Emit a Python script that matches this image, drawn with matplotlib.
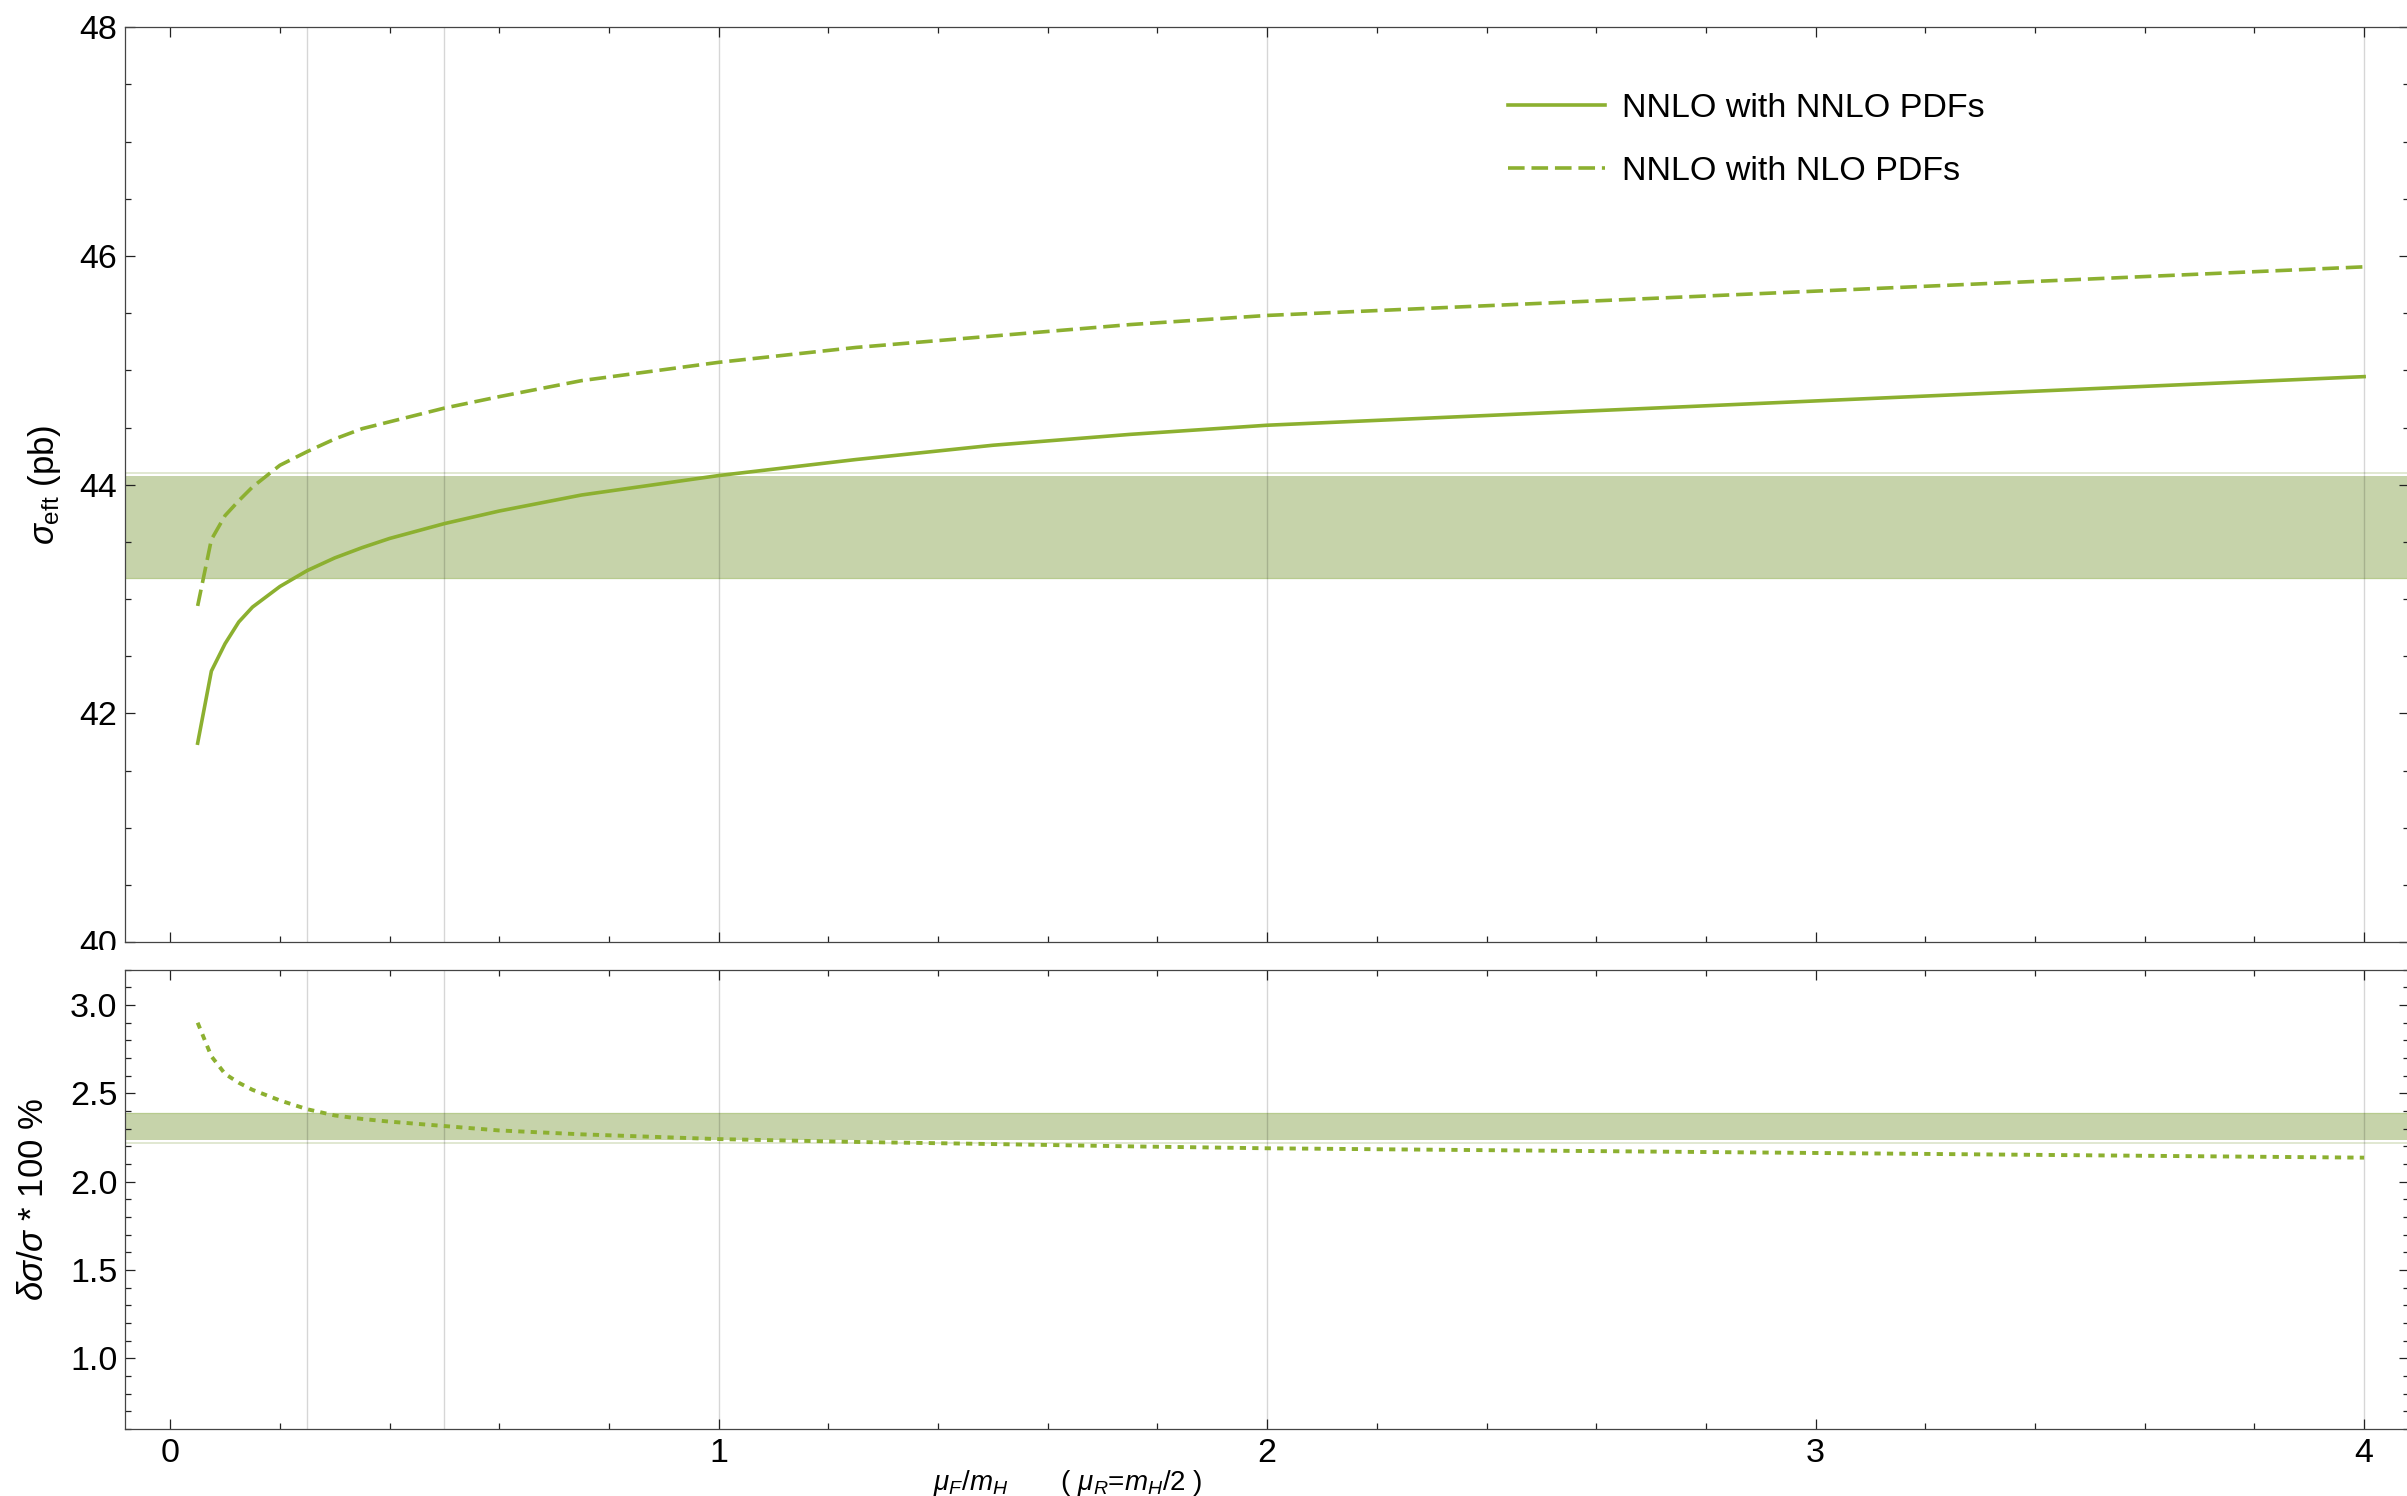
import matplotlib
matplotlib.use('Agg')
import matplotlib.pyplot as plt
from matplotlib.ticker import MultipleLocator, FormatStrFormatter
from matplotlib.patches import Rectangle

plt.rcParams['font.family'] = ['Liberation Sans', 'DejaVu Sans']
plt.rcParams['mathtext.fontset'] = 'custom'
plt.rcParams['mathtext.rm'] = 'Liberation Sans'
plt.rcParams['mathtext.it'] = 'Liberation Sans:italic'
plt.rcParams['mathtext.bf'] = 'Liberation Sans:bold'

# factorisation scale mu_F/m_H
mu_f = [0.05, 0.075, 0.1, 0.125, 0.15, 0.2, 0.25, 0.3, 0.35, 0.4, 0.5,
        0.6, 0.75, 1.0, 1.25, 1.5, 1.75, 2.0, 4.0]
# sigma_eft in pb
sigma_nnlo_pdf = [41.74, 42.37, 42.61, 42.80, 42.93, 43.11, 43.25, 43.36, 43.45,
                  43.53, 43.66, 43.77, 43.91, 44.08, 44.22, 44.345, 44.44, 44.52,
                  44.945]
sigma_nlo_pdf = [42.94, 43.52, 43.73, 43.86, 43.98, 44.17, 44.29, 44.40, 44.49,
                 44.55, 44.67, 44.77, 44.91, 45.07, 45.20, 45.30, 45.40, 45.48,
                 45.905]
# relative difference in percent
rel_diff = [2.90, 2.71, 2.61, 2.56, 2.52, 2.46, 2.41, 2.375, 2.355, 2.34, 2.315,
            2.29, 2.268, 2.241, 2.225, 2.213, 2.20, 2.189, 2.136]

band_sigma = (43.18, 44.08)
band_rel = (2.236, 2.39)
grid_x = [0.25, 0.5, 1, 2, 4]

green = '#8cb030'
band_col = '#c6d3aa'

fig = plt.figure(figsize=(24.07, 14.96), dpi=100)
ax1 = fig.add_axes([0.0519, 0.3702, 0.9491, 0.6116])
ax2 = fig.add_axes([0.0519, 0.0448, 0.9491, 0.3070])


def style(ax):
    ax.set_xlim(-0.0826, 4.0826)
    ax.xaxis.set_major_locator(MultipleLocator(1))
    ax.xaxis.set_minor_locator(MultipleLocator(0.2))
    ax.tick_params(which='both', direction='in', top=True, right=True,
                   color='#222222', width=0.9, labelsize=24.5)
    ax.tick_params(which='major', length=7.2)
    ax.tick_params(which='minor', length=4.3)
    ax.tick_params(axis='x', pad=6.5)
    ax.tick_params(axis='y', pad=5.5)
    for s in ax.spines.values():
        s.set_linewidth(0.9)
        s.set_color('#444444')
    for x in grid_x:
        ax.axvline(x, color='k', alpha=0.16, lw=1.0, zorder=1)


# upper panel: cross sections
style(ax1)
ax1.set_ylim(40, 48)
ax1.yaxis.set_major_locator(MultipleLocator(2))
ax1.yaxis.set_minor_locator(MultipleLocator(0.5))
ax1.tick_params(labelbottom=False)
ax1.axhspan(band_sigma[0], band_sigma[1], facecolor=band_col, edgecolor='none', zorder=0.5)
ax1.axhline(band_sigma[1] + 0.025, color='#dce4ca', lw=1.2, zorder=0.6)
ax1.axhline(band_sigma[0], color='#b7cb8e', lw=0.9, zorder=0.6)
ax1.plot(mu_f, sigma_nnlo_pdf, color=green, lw=2.6, zorder=3,
         label='NNLO with NNLO PDFs')
ax1.plot(mu_f, sigma_nlo_pdf, color=green, lw=2.6, zorder=3,
         linestyle=(0, (4.6, 1.9)), label='NNLO with NLO PDFs')
ax1.set_ylabel(r'$\sigma_{\rm eft}$ (pb)', fontsize=25)
ax1.yaxis.set_label_coords(-0.027, 0.5)
ax1.legend(loc='upper left', bbox_to_anchor=(0.6265, 0.938),
           bbox_transform=fig.transFigure, frameon=False, fontsize=24.5,
           handlelength=2.85, handletextpad=0.5, labelspacing=0.95,
           borderpad=0, borderaxespad=0)

# lower panel: relative difference
style(ax2)
ax2.set_ylim(0.6, 3.2)
ax2.yaxis.set_major_locator(MultipleLocator(0.5))
ax2.yaxis.set_minor_locator(MultipleLocator(0.1))
ax2.yaxis.set_major_formatter(FormatStrFormatter('%.1f'))
ax2.axhspan(band_rel[0], band_rel[1], facecolor=band_col, edgecolor='none', zorder=0.5)
ax2.axhline(band_rel[1], color='#b7cb8e', lw=0.9, zorder=0.6)
ax2.axhline(band_rel[0] - 0.016, color='#dce4ca', lw=1.2, zorder=0.6)
ax2.plot(mu_f, rel_diff, color=green, lw=2.8, zorder=3,
         linestyle=(0, (1.6, 1.6)), dash_capstyle='butt')
ax2.set_ylabel(r'$\delta\sigma/\sigma$ * 100 %', fontsize=25)
ax2.yaxis.set_label_coords(-0.033, 0.5)

fig.text(0.3876, 0.004, r'$\mu_F/m_H$       ( $\mu_R$=$m_H$/2 )',
         fontsize=20, ha='left', va='baseline')

# the lowest label of the upper panel is cut off at the panel gap
fig.add_artist(Rectangle((0, 0.3523), 0.0515, 0.0127, transform=fig.transFigure,
                         facecolor='white', edgecolor='none', zorder=5))

fig.savefig('out.png', dpi=100)
